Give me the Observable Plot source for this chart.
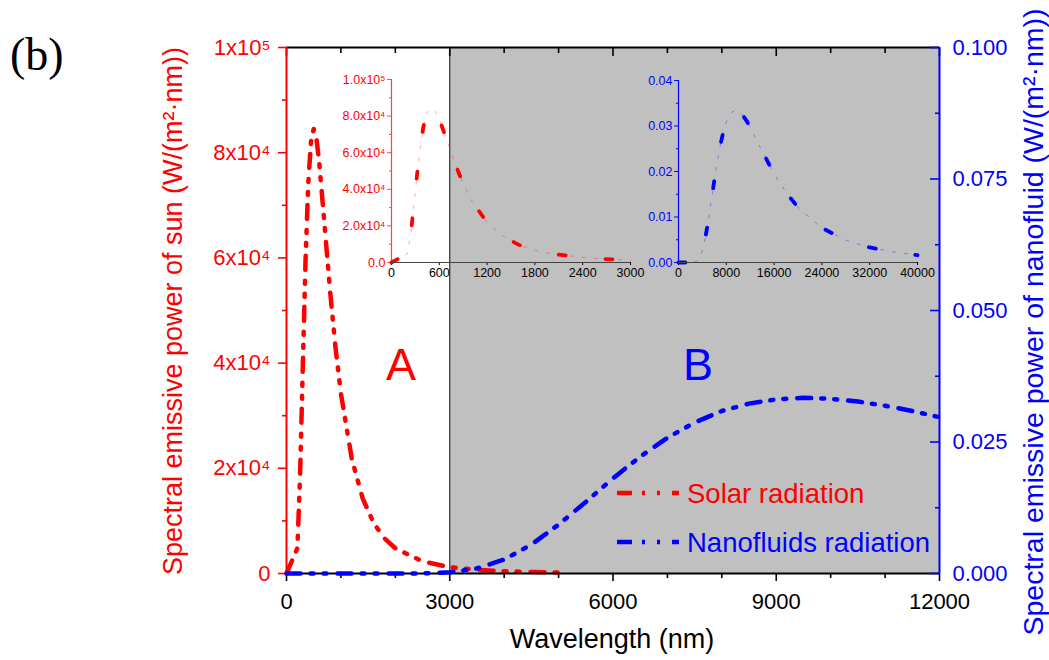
<!DOCTYPE html>
<html>
<head>
<meta charset="utf-8">
<script src="https://cdn.jsdelivr.net/npm/d3@7"></script>
<script src="https://cdn.jsdelivr.net/npm/@observablehq/plot@0.6"></script>
<style>
  body { margin: 0; background: #fff; }
  #fig { position: relative; width: 1049px; height: 660px; overflow: hidden; background: #fff; }
  #fig > svg { position: absolute; }
</style>
</head>
<body>
<div id="fig"></div>
<script>
// Solar (blackbody sun) spectral emissive power, W/(m²·nm)
const solarWavelength = [0, 200, 250, 300, 350, 400, 450, 500, 550, 600, 700, 800, 900, 1000, 1200, 1400, 1600, 1800, 2000, 2500, 3000, 3500, 4000, 4500, 5000];
const solarPower = [0, 4800, 18800, 39500, 59600, 74200, 82100, 84500, 82700, 78300, 66200, 53800, 43000, 34200, 21800, 14300, 9600, 6700, 4800, 2300, 1200, 690, 430, 280, 190];

// Nanofluid spectral emissive power, W/(m²·nm)
const fluidWavelength = [0, 2000, 2500, 3000, 3500, 4000, 4500, 5000, 5500, 6000, 6500, 7000, 7500, 8000, 8500, 9000, 9500, 10000, 10500, 11000, 11500, 12000, 14000, 16000, 18000, 20000, 24000, 28000, 32000, 36000, 40000];
const fluidPower = [0, 0, 0.00002, 0.00022, 0.00096, 0.00266, 0.0055, 0.0093, 0.0136, 0.0181, 0.0222, 0.0258, 0.0287, 0.0309, 0.0323, 0.0331, 0.0334, 0.0332, 0.0327, 0.0319, 0.0309, 0.0297, 0.0245, 0.0195, 0.0154, 0.0121, 0.0076, 0.0049, 0.0033, 0.0023, 0.0016];

// Axis ticks
const xTicks = [0, 3000, 6000, 9000, 12000];
const xMinorTicks = [1000, 2000, 4000, 5000, 7000, 8000, 10000, 11000];
const sunTicks = [0, 20000, 40000, 60000, 80000, 100000];
const sunMinorTicks = [10000, 30000, 50000, 70000, 90000];
const sunTickLabels = ["0", "2x10⁴", "4x10⁴", "6x10⁴", "8x10⁴", "1x10⁵"];
const fluidTicks = [0, 0.025, 0.05, 0.075, 0.1];
const fluidMinorTicks = [0.0125, 0.0375, 0.0625, 0.0875];
const fluidTickLabels = ["0.000", "0.025", "0.050", "0.075", "0.100"];

// Inset ticks
const insetSunX = [0, 600, 1200, 1800, 2400, 3000];
const insetSunY = [0, 20000, 40000, 60000, 80000, 100000];
const insetSunYMinor = [10000, 30000, 50000, 70000, 90000];
const insetSunYLabels = ["0.0", "2.0x10⁴", "4.0x10⁴", "6.0x10⁴", "8.0x10⁴", "1.0x10⁵"];
const insetFluidX = [0, 8000, 16000, 24000, 32000, 40000];
const insetFluidY = [0, 0.01, 0.02, 0.03, 0.04];
const insetFluidYMinor = [0.005, 0.015, 0.025, 0.035];
const insetFluidYLabels = ["0.00", "0.01", "0.02", "0.03", "0.04"];

// Regions
const regionB = [{from: 3000, to: 12000}];

const RED = "#ff0000", BLUE = "#0000ff", GRAY = "#c0c0c0";
const FONT = "'Liberation Sans', Arial, Helvetica, sans-serif";
const W = 1049, H = 660;
const frame = {marginLeft: 286, marginRight: 110, marginTop: 47, marginBottom: 87};
const clear = {background: "transparent", overflow: "visible", fontFamily: FONT};

const solar = solarWavelength.map((x, i) => ({x, y: solarPower[i]}));
const fluid = fluidWavelength.map((x, i) => ({x, y: fluidPower[i]}));
const dashDotDot = "14 10 3 10 3 11";
const labelFrom = (ticks, labels) => d => labels[ticks.indexOf(d)];
const none = () => "";

const fig = document.getElementById("fig");
function place(svg, left, top) {
  svg.style.left = left + "px";
  svg.style.top = top + "px";
  fig.appendChild(svg);
}

// Main panel, left (sun) scale
const sunPanel = Plot.plot({
  width: W, height: H, ...frame, style: clear,
  x: {domain: [0, 12000]},
  y: {domain: [0, 100000]},
  marks: [
    Plot.rect(regionB, {x1: "from", x2: "to", y1: 0, y2: 100000, fill: GRAY}),
    Plot.ruleX([3000], {stroke: "#333", strokeWidth: 1.2}),
    Plot.ruleY([100000], {stroke: "#000", strokeWidth: 2}),
    Plot.axisX({ticks: xTicks, tickSize: 8, tickPadding: 12, tickFormat: d => String(d), fontSize: 22, color: "#000", strokeWidth: 1.6, label: null}),
    Plot.axisX({ticks: xMinorTicks, tickSize: 5, tickFormat: none, color: "#000", strokeWidth: 1.6, label: null}),
    Plot.axisX({anchor: "top", ticks: xTicks, tickSize: 8, dy: 8, tickFormat: none, color: "#000", strokeWidth: 1.6, label: null}),
    Plot.axisX({anchor: "top", ticks: xMinorTicks, tickSize: 5, dy: 5, tickFormat: none, color: "#000", strokeWidth: 1.6, label: null}),
    Plot.axisY({anchor: "left", ticks: sunTicks, tickSize: 8, tickPadding: 8, tickFormat: labelFrom(sunTicks, sunTickLabels), fontSize: 22, color: RED, strokeWidth: 1.6, label: null}),
    Plot.axisY({anchor: "left", ticks: sunMinorTicks, tickSize: 4, tickFormat: none, color: RED, strokeWidth: 1.6, label: null}),
    Plot.line(solar, {x: "x", y: "y", stroke: RED, strokeWidth: 4.5, strokeDasharray: dashDotDot, strokeLinejoin: "round"}),
    Plot.ruleY([0], {stroke: "#000", strokeWidth: 2}),
    Plot.ruleX([0], {stroke: RED, strokeWidth: 2})
  ]
});
place(sunPanel, 0, 0);

// Main panel, right (nanofluid) scale
const fluidPanel = Plot.plot({
  width: W, height: H, ...frame, style: clear,
  x: {domain: [0, 12000], axis: null},
  y: {domain: [0, 0.1]},
  marks: [
    Plot.axisY({anchor: "right", ticks: fluidTicks, tickSize: 10, dx: -10, tickFormat: none, color: BLUE, strokeWidth: 1.6, label: null}),
    Plot.axisY({anchor: "right", ticks: fluidMinorTicks, tickSize: 5, dx: -5, tickFormat: none, color: BLUE, strokeWidth: 1.6, label: null}),
    Plot.axisY({anchor: "right", ticks: fluidTicks, tickSize: 0, tickPadding: 13, tickFormat: labelFrom(fluidTicks, fluidTickLabels), fontSize: 22, color: BLUE, label: null}),
    Plot.line(fluid.filter(d => d.x <= 12000), {x: "x", y: "y", stroke: BLUE, strokeWidth: 4.5, strokeDasharray: dashDotDot, strokeLinejoin: "round"}),
    Plot.ruleX([12000], {stroke: BLUE, strokeWidth: 2})
  ]
});
place(fluidPanel, 0, 0);

// Inset: solar spectrum 0–3000 nm
const insetSun = Plot.plot({
  width: 320, height: 230, marginLeft: 61, marginRight: 20, marginTop: 19, marginBottom: 28,
  style: clear,
  x: {domain: [0, 3000]},
  y: {domain: [0, 100000]},
  marks: [
    Plot.axisX({ticks: insetSunX, tickSize: 3, tickPadding: 3, tickFormat: d => String(d), fontSize: 12.5, color: "#000", label: null}),
    Plot.axisY({ticks: insetSunY, tickSize: 4, tickPadding: 2, tickFormat: labelFrom(insetSunY, insetSunYLabels), fontSize: 12.5, color: RED, strokeOpacity: 0.7, label: null}),
    Plot.axisY({ticks: insetSunYMinor, tickSize: 2, tickFormat: none, color: RED, strokeOpacity: 0.7, label: null}),
    Plot.line(solar.filter(d => d.x <= 3000), {x: "x", y: "y", stroke: RED, strokeOpacity: 0.35, strokeWidth: 1, strokeDasharray: "3 9", strokeDashoffset: -4}),
    Plot.line(solar.filter(d => d.x <= 3000), {x: "x", y: "y", stroke: RED, strokeWidth: 3.8, strokeDasharray: "7 40"}),
    Plot.ruleY([0], {stroke: "#444", strokeWidth: 1.2}),
    Plot.ruleX([0], {stroke: RED, strokeOpacity: 0.75, strokeWidth: 1.2})
  ]
});
place(insetSun, 330, 60);

// Inset: nanofluid spectrum 0–40000 nm
const insetFluid = Plot.plot({
  width: 320, height: 230, marginLeft: 58, marginRight: 23, marginTop: 20, marginBottom: 28,
  style: clear,
  x: {domain: [0, 40000]},
  y: {domain: [0, 0.04]},
  marks: [
    Plot.axisX({ticks: insetFluidX, tickSize: 3, tickPadding: 3, tickFormat: d => String(d), fontSize: 12.5, color: "#000", label: null}),
    Plot.axisY({ticks: insetFluidY, tickSize: 4, tickPadding: 2, tickFormat: labelFrom(insetFluidY, insetFluidYLabels), fontSize: 12.5, color: BLUE, label: null}),
    Plot.axisY({ticks: insetFluidYMinor, tickSize: 2, tickFormat: none, color: BLUE, label: null}),
    Plot.line(fluid, {x: "x", y: "y", stroke: BLUE, strokeOpacity: 0.35, strokeWidth: 1, strokeDasharray: "3 9", strokeDashoffset: -4}),
    Plot.line(fluid, {x: "x", y: "y", stroke: BLUE, strokeWidth: 3.8, strokeDasharray: "7 40"}),
    Plot.ruleY([0], {stroke: "#444", strokeWidth: 1.2}),
    Plot.ruleX([0], {stroke: BLUE, strokeWidth: 1.2})
  ]
});
place(insetFluid, 620, 60);

// Titles, region letters and legend
const notes = d3.create("svg").attr("width", W).attr("height", H)
  .style("left", "0px").style("top", "0px").style("font-family", FONT);

notes.append("text").attr("x", 10).attr("y", 70)
  .attr("font-family", "'Liberation Serif', 'Times New Roman', serif").attr("font-size", 46)
  .text("(b)");

notes.append("text").attr("x", 401).attr("y", 380).attr("text-anchor", "middle")
  .attr("font-size", 45).attr("fill", RED).text("A");
notes.append("text").attr("x", 698).attr("y", 380).attr("text-anchor", "middle")
  .attr("font-size", 45).attr("fill", BLUE).text("B");

notes.append("text").attr("x", 612).attr("y", 648).attr("text-anchor", "middle")
  .attr("font-size", 27).attr("fill", "#000").text("Wavelength (nm)");

notes.append("text").attr("transform", "translate(182,311) rotate(-90)").attr("text-anchor", "middle")
  .attr("font-size", 27).attr("fill", RED).text("Spectral emissive power of sun (W/(m²·nm))");
notes.append("text").attr("transform", "translate(1043,322) rotate(-90)").attr("text-anchor", "middle")
  .attr("font-size", 28.5).attr("fill", BLUE).text("Spectral emissive power of nanofluid (W/(m²·nm))");

const legendItems = [
  {label: "Solar radiation", color: RED, y: 493},
  {label: "Nanofluids radiation", color: BLUE, y: 542}
];
for (const item of legendItems) {
  notes.append("line").attr("x1", 617).attr("x2", 679).attr("y1", item.y).attr("y2", item.y)
    .attr("stroke", item.color).attr("stroke-width", 4.5).attr("stroke-dasharray", "15 10 3 12 3 12");
  notes.append("text").attr("x", 687).attr("y", item.y + 9.5).attr("font-size", 27.5)
    .attr("fill", item.color).text(item.label);
}
fig.appendChild(notes.node());
</script>
</body>
</html>
